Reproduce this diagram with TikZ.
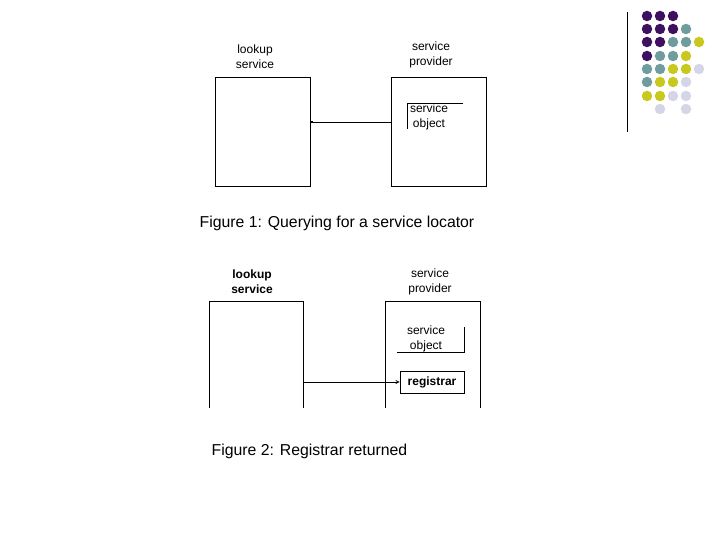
\documentclass[tikz,border=0pt]{standalone}
\usepackage{fontspec}
\setmainfont{Liberation Sans}
\usetikzlibrary{arrows.meta}
\definecolor{P}{HTML}{3D1060}
\definecolor{T}{HTML}{6F9C9C}
\definecolor{Y}{HTML}{C8C81E}
\definecolor{L}{HTML}{D5D5E8}
\definecolor{N}{HTML}{FFFFFF}
\begin{document}
\begin{tikzpicture}[x=1pt,y=-1pt,line width=0.8pt,
        lbl/.style = {align=center, font=\fontsize{12}{15}\selectfont, inner sep=0pt},
        figcap/.style = {font=\fontsize{15.8}{18}\selectfont, inner sep=0pt},
        dot/.style = {circle, minimum size=10.5pt, inner sep=0pt}]
    \useasboundingbox (0,0) rectangle (720,540);

    % Decoration
    \draw (627,12) -- (627,132);
    \foreach \row/\cols in {16/{P,P,P},29/{P,P,P,T},42/{P,P,T,T,Y},56/{P,T,T,Y},
                            69/{T,T,Y,Y,L},82/{T,Y,Y,L},96/{Y,Y,L,L},109/{N,L,N,L}} {
        \foreach \c [count=\i from 0] in \cols {
            \node[dot, fill=\c] at (647+13*\i,\row) {};
        }
    }

    % Figure 1
    \node[draw, minimum width=95pt, minimum height=109pt, inner sep=0pt] (look1) at (262.5,131.5) {};
    \node[draw, minimum width=95pt, minimum height=109pt, inner sep=0pt] (prov1) at (438.5,131.5) {};
    \node[lbl] (lookLbl1) at (255,57) {lookup\\service};
    \node[lbl] (provLbl1) at (431,55) {service\\provider};
    \node[lbl] (obj1) at (429,117) {service\\object};
    \draw (463,103) -- (407,103) -- (407,129);
    \draw[{Square[length=2pt,width=2pt]}-] (look1.east |- 0,122) -- (prov1.west |- 0,122);
    \node[figcap] (cap1) at (337,223) {Figure 1: Querying for a service locator};

    % Figure 2
    \draw (209,408) -- (209,301) -- (303,301) -- (303,408);
    \draw (385,408) -- (385,301) -- (480,301) -- (480,408);
    \coordinate (look2) at (303,382);
    \node[lbl, font=\fontsize{12}{15}\selectfont\bfseries] (lookLbl2) at (252,282) {lookup\\service};
    \node[lbl] (provLbl2) at (430,282) {service\\provider};
    \node[lbl] (obj2) at (426,339) {service\\object};
    \draw (464,327) -- (464,352) -- (397,352);
    \node[draw, minimum width=64pt, minimum height=22pt, inner sep=0pt,
          font=\fontsize{12}{14}\selectfont\bfseries] (reg) at (432,382) {registrar};
    \draw[-{Straight Barb[length=3pt,width=3pt]}] (look2) -- (reg.west);
    \node[figcap] (cap2) at (309.5,451) {Figure 2: Registrar returned};
\end{tikzpicture}
\end{document}
